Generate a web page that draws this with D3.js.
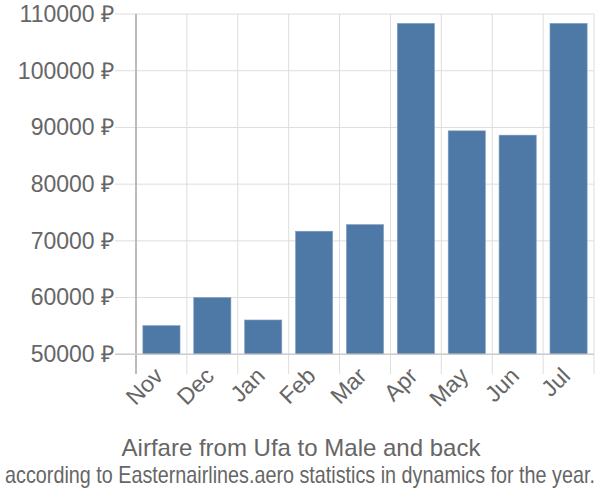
<!DOCTYPE html>
<html><head><meta charset="utf-8">
<script src="https://cdn.jsdelivr.net/npm/d3@7"></script>
<style>body{margin:0;background:#fff}svg{display:block}</style>
</head><body>
<script>
const categories = ["Nov","Dec","Jan","Feb","Mar","Apr","May","Jun","Jul"];
const values = [55050, 60000, 56050, 71700, 72870, 108340, 89400, 88640, 108340];
const yTicks = [50000,60000,70000,80000,90000,100000,110000];
const title = "Airfare from Ufa to Male and back";
const subtitle = "according to Easternairlines.aero statistics in dynamics for the year.";

(function(){
const W=600,H=500;
const svg=d3.select("body").append("svg").attr("width",W).attr("height",H);
const pL=136,pR=594,pT=14,pB=354.3;
const x=d3.scaleBand().domain(categories).range([pL,pR]).paddingInner(0.27).paddingOuter(0.135);
const y=d3.scaleLinear().domain([50000,110000]).range([pB,pT]);
const font="'Liberation Sans', Arial, sans-serif";
const band=(pR-pL)/categories.length;

svg.append("g").selectAll("line").data(yTicks).join("line")
 .attr("x1",115).attr("x2",pR).attr("y1",d=>y(d)).attr("y2",d=>y(d))
 .attr("stroke","#ddd").attr("stroke-width",1);
const bounds=d3.range(categories.length+1).map(i=>pL+i*band);
svg.append("g").selectAll("line").data(bounds).join("line")
 .attr("x1",d=>d).attr("x2",d=>d).attr("y1",pT).attr("y2",374)
 .attr("stroke","#ddd").attr("stroke-width",1);

svg.append("g").selectAll("rect").data(values).join("rect")
 .attr("x",(d,i)=>x(categories[i])).attr("width",x.bandwidth())
 .attr("y",d=>y(d)).attr("height",d=>pB-y(d))
 .attr("fill","#4e79a7").attr("stroke","#7f9ec0").attr("stroke-width",0.6);

svg.append("line").attr("x1",pL).attr("x2",pL).attr("y1",pT).attr("y2",374).attr("stroke","#aaa").attr("stroke-width",1.5);
svg.append("line").attr("x1",115).attr("x2",pR).attr("y1",pB).attr("y2",pB).attr("stroke","#ccc").attr("stroke-width",1.5);

const yAxis=d3.axisLeft(y).tickValues(yTicks).tickSize(0).tickPadding(0).tickFormat(d=>d+" ₽");
const gy=svg.append("g").attr("transform",`translate(${pL-22},0)`).call(yAxis);
gy.select(".domain").remove();
gy.selectAll("text").attr("font-family",font).attr("font-size",23).attr("fill","#666");

const xAxis=d3.axisBottom(x).tickSize(0).tickPadding(0);
const gx=svg.append("g").attr("transform",`translate(0,${pB})`).call(xAxis);
gx.select(".domain").remove();
gx.selectAll("text").attr("font-family",font).attr("font-size",23).attr("fill","#666")
 .attr("text-anchor","end").attr("dy",0)
 .attr("transform","translate(3,23) rotate(-45)");

svg.append("text").attr("x",301).attr("y",455.5).attr("text-anchor","middle")
 .attr("font-family",font).attr("font-size",24).attr("fill","#666").text(title);
const sub=svg.append("text").attr("x",0).attr("y",0).attr("text-anchor","middle")
 .attr("font-family",font).attr("font-size",23).attr("fill","#666").text(subtitle);
const w=sub.node().getComputedTextLength();
const s=Math.min(1,590/w);
sub.attr("transform",`translate(300,483) scale(${s},1)`);
})();
</script>
</body></html>
